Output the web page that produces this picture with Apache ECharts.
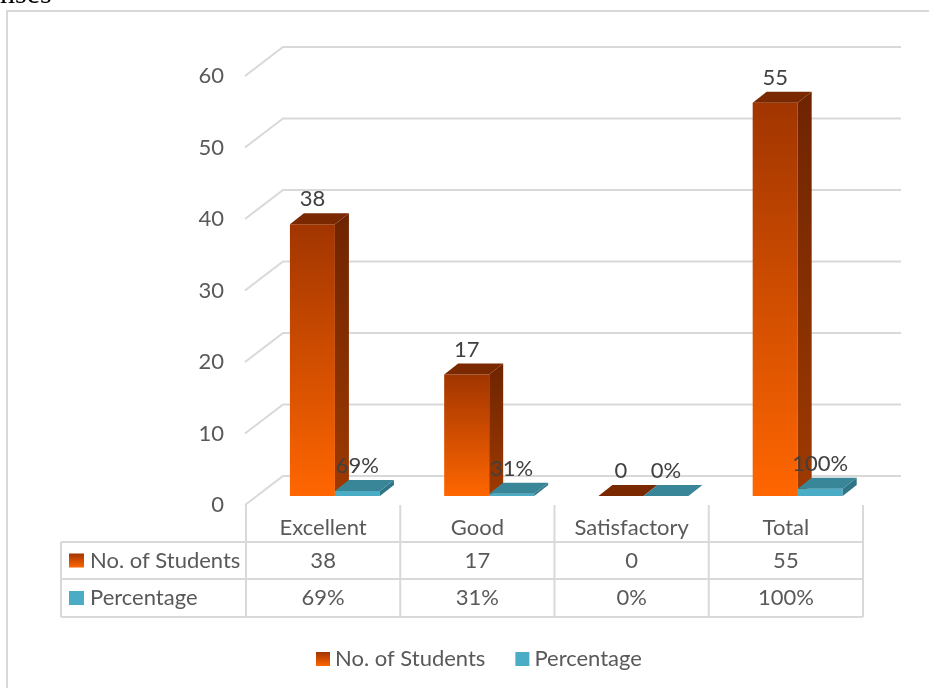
<!DOCTYPE html>
<html>
<head>
<meta charset="utf-8">
<script src="https://cdn.jsdelivr.net/npm/echarts@6/dist/echarts.min.js"></script>
<style>
html,body{margin:0;padding:0;background:#fff;}
#c{width:929px;height:688px;}
</style>
</head>
<body>
<div id="c"></div>
<script>
const categories = ['Excellent', 'Good', 'Satisfactory', 'Total'];
const students = [38, 17, 0, 55];
const percentages = [69, 31, 0, 100];
const yTicks = [0, 10, 20, 30, 40, 50, 60];
const seriesNames = ['No. of Students', 'Percentage'];

const FONT = 'Lato, "Open Sans", sans-serif';
const FS = 22;
const TXT = '#595959';
const GRID_C = '#D9D9D9';
const FLOOR = { x: 38, y: -29 };   // front->back wall offset
const FO = { x: 11.8, y: -9 };     // bar front face offset in depth
const BD = { x: 14, y: -11 };      // bar depth
const BW = 45;                     // bar width

const orangeFront = new echarts.graphic.LinearGradient(0, 0, 0, 1, [
  { offset: 0, color: '#A13500' }, { offset: 1, color: '#FF6600' }]);
const orangeSide = new echarts.graphic.LinearGradient(0, 0, 0, 1, [
  { offset: 0, color: '#6E2400' }, { offset: 1, color: '#9E3A00' }]);
const orangeTop = '#7A2800';
const tealFront = '#4BACC6';
const tealSide = '#2F7587';
const tealTop = '#3A8699';

function wallRender(params, api) {
  const cs = params.coordSys;
  const y = api.coord([0, api.value(1)])[1];
  const x0 = cs.x - 1;
  return {
    type: 'polyline',
    shape: { points: [[x0, y], [x0 + FLOOR.x, y + FLOOR.y], [cs.x + cs.width + FLOOR.x, y + FLOOR.y]] },
    style: { stroke: GRID_C, lineWidth: 2, fill: null },
    silent: true
  };
}

function makeBarRender(side, colors) {
  return function (params, api) {
    const i = api.value(0), v = api.value(1);
    const b = api.coord([i, 0]);
    const t = api.coord([i, v]);
    const x0 = b[0] + FO.x + (side < 0 ? -BW : 0);
    const x1 = x0 + BW;
    const yb = b[1] + FO.y;
    const yt = t[1] + FO.y;
    const children = [];
    if (yb - yt > 0.3) {
      children.push({ type: 'rect', shape: { x: x0, y: yt, width: BW, height: yb - yt }, style: { fill: colors.front } });
      children.push({ type: 'polygon', shape: { points: [[x1, yt], [x1 + BD.x, yt + BD.y], [x1 + BD.x, yb + BD.y], [x1, yb]] }, style: { fill: colors.side } });
    }
    children.push({ type: 'polygon', shape: { points: [[x0, yt], [x1, yt], [x1 + BD.x, yt + BD.y], [x0 + BD.x, yt + BD.y]] }, style: { fill: colors.top } });
    children.push({
      type: 'text',
      style: { x: (x0 + x1) / 2, y: yt - 25, text: colors.label(api.value(2)), fill: '#404040', font: FS + 'px ' + FONT, align: 'center', verticalAlign: 'middle' },
      z2: 100
    });
    return { type: 'group', children: children };
  };
}

const ROW1 = 542, ROW2 = 579, ROW3 = 617, TABLE_LEFT = 61;

function tableRender(params, api) {
  const i = api.value(0);
  const c = api.coord([i, 0]);
  const half = api.size([1, 0])[0] / 2;
  const xl = c[0] - half, xr = c[0] + half;
  const line = (x1, y1, x2, y2) => ({ type: 'line', shape: { x1: x1, y1: y1, x2: x2, y2: y2 }, style: { stroke: GRID_C, lineWidth: 2 } });
  const text = (x, y, s, align) => ({ type: 'text', style: { x: x, y: y, text: s, fill: TXT, font: FS + 'px ' + FONT, align: align || 'center', verticalAlign: 'middle' } });
  const ch = [];
  ch.push(line(xr, c[1], xr, ROW3));
  ch.push(line(xl, ROW1, xr, ROW1));
  ch.push(line(xl, ROW2, xr, ROW2));
  ch.push(line(xl, ROW3, xr, ROW3));
  ch.push(text(c[0], (ROW1 + ROW2) / 2, String(students[i])));
  ch.push(text(c[0], (ROW2 + ROW3) / 2, percentages[i] + '%'));
  if (i === 0) {
    ch.push(line(xl, c[1], xl, ROW3));
    ch.push(line(TABLE_LEFT, ROW1, xl, ROW1));
    ch.push(line(TABLE_LEFT, ROW2, xl, ROW2));
    ch.push(line(TABLE_LEFT, ROW3, xl, ROW3));
    ch.push(line(TABLE_LEFT, ROW1, TABLE_LEFT, ROW3));
    ch.push({ type: 'rect', shape: { x: 69, y: (ROW1 + ROW2) / 2 - 7, width: 15, height: 14 }, style: { fill: new echarts.graphic.LinearGradient(0, 0, 0, 1, [{ offset: 0, color: '#A13500' }, { offset: 1, color: '#FF6600' }]) } });
    ch.push({ type: 'rect', shape: { x: 69, y: (ROW2 + ROW3) / 2 - 7, width: 15, height: 14 }, style: { fill: tealFront } });
    ch.push(text(90, (ROW1 + ROW2) / 2, seriesNames[0], 'left'));
    ch.push(text(90, (ROW2 + ROW3) / 2, seriesNames[1], 'left'));
  }
  return { type: 'group', children: ch };
}

const chart = echarts.init(document.getElementById('c'), null, { renderer: 'canvas' });
chart.setOption({
  animation: false,
  backgroundColor: '#fff',
  textStyle: { fontFamily: FONT },
  grid: { left: 246, right: 66, top: 76, bottom: 183 },
  xAxis: {
    type: 'category', data: categories,
    axisLine: { show: false }, axisTick: { show: false }, splitLine: { show: false },
    axisLabel: { color: TXT, fontSize: FS, fontFamily: FONT, margin: 12, interval: 0 }
  },
  yAxis: {
    type: 'value', min: 0, max: 60, interval: 10,
    axisLine: { show: false }, axisTick: { show: false }, splitLine: { show: false },
    axisLabel: { color: TXT, fontSize: FS, fontFamily: FONT, margin: 22 }
  },
  legend: {
    data: [
      { name: seriesNames[0], itemStyle: { color: new echarts.graphic.LinearGradient(0, 0, 0, 1, [{ offset: 0, color: '#A13500' }, { offset: 1, color: '#FF6600' }]) } },
      { name: seriesNames[1], itemStyle: { color: tealFront } }
    ],
    top: 648, left: 316, padding: 0, icon: 'rect', itemWidth: 14, itemHeight: 14, itemGap: 30,
    textStyle: { color: TXT, fontSize: FS, fontFamily: FONT }
  },
  graphic: [
    { type: 'rect', shape: { x: 7, y: 11, width: 940, height: 700 }, style: { fill: null, stroke: GRID_C, lineWidth: 2 }, silent: true },
    { type: 'text', x: 0, y: -20, style: { text: 'nses', font: '30px "Liberation Serif", serif', fill: '#000' }, silent: true }
  ],
  series: [
    {
      type: 'custom', name: 'wall', silent: true,
      data: yTicks.map(v => [0, v]), encode: { x: 0, y: 1 },
      renderItem: wallRender, z: 1
    },
    {
      type: 'custom', name: seriesNames[0], itemStyle: { color: '#E05A00' },
      data: students.map((v, i) => [i, v, v]), encode: { x: 0, y: 1 },
      renderItem: makeBarRender(-1, { front: orangeFront, side: orangeSide, top: orangeTop, label: v => String(v) }), z: 2
    },
    {
      type: 'custom', name: seriesNames[1], itemStyle: { color: tealFront },
      data: percentages.map((p, i) => [i, p / 100, p]), encode: { x: 0, y: 1 },
      renderItem: makeBarRender(1, { front: tealFront, side: tealSide, top: tealTop, label: v => v + '%' }), z: 3
    },
    {
      type: 'custom', name: 'table', silent: true,
      data: categories.map((c, i) => [i, 0]), encode: { x: 0, y: 1 },
      renderItem: tableRender, z: 4
    }
  ]
});
</script>
</body>
</html>
